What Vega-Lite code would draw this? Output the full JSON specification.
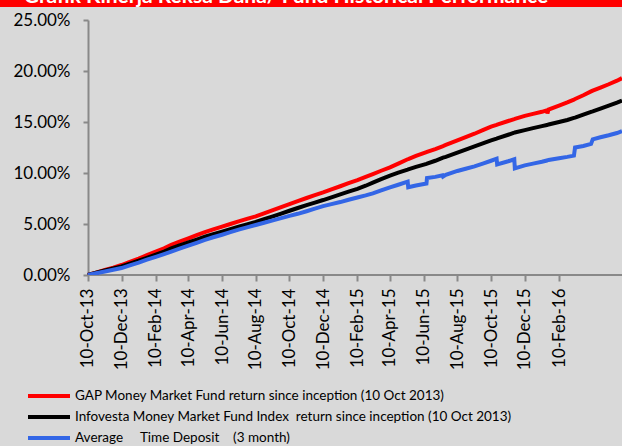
{
  "$schema": "https://vega.github.io/schema/vega-lite/v6.json",
  "padding": 0,
  "background": "#D9D9D9",
  "spacing": 4,
  "config": {"font": "Lato", "view": {"stroke": null}},
  "vconcat": [
    {
      "width": 622,
      "height": 7,
      "view": {"fill": "#FF0000", "stroke": null},
      "data": {"values": [{"t": "Grafik Kinerja Reksa Dana/ Fund Historical Performance"}]},
      "mark": {"type": "text", "clip": true, "color": "#FFFFFF", "font": "Lato", "fontWeight": "bold", "fontSize": 21, "baseline": "alphabetic", "dx": -25, "dy": -0.5},
      "encoding": {"text": {"field": "t"}}
    },
    {
      "width": 622,
      "height": 255,
      "layer": [
        {
          "data": {"values": [{}]},
          "mark": {"type": "rule", "color": "#898989", "strokeWidth": 2},
          "encoding": {
            "x": {"datum": {"year": 2013, "month": 10, "date": 10, "utc": true}, "type": "temporal"},
            "x2": {"datum": {"year": 2016, "month": 6, "date": 3, "utc": true}},
            "y": {"datum": 0, "type": "quantitative"}
          }
        },
        {
          "data": {"values": [
            {"d": "2013-10-10", "GAP": 0, "INF": 0, "TD": 0},
            {"d": "2013-10-25", "GAP": 0.0024, "INF": 0.0022, "TD": 0.0017},
            {"d": "2013-11-10", "GAP": 0.0050, "INF": 0.0045, "TD": 0.0035},
            {"d": "2013-11-25", "GAP": 0.0073, "INF": 0.0065, "TD": 0.0051},
            {"d": "2013-12-10", "GAP": 0.0098, "INF": 0.0085, "TD": 0.0068},
            {"d": "2013-12-25", "GAP": 0.0128, "INF": 0.0112, "TD": 0.0095},
            {"d": "2014-01-10", "GAP": 0.0160, "INF": 0.0140, "TD": 0.0122},
            {"d": "2014-01-25", "GAP": 0.0194, "INF": 0.0169, "TD": 0.0150},
            {"d": "2014-02-10", "GAP": 0.0230, "INF": 0.0200, "TD": 0.0178},
            {"d": "2014-02-25", "GAP": 0.0262, "INF": 0.0230, "TD": 0.0205},
            {"d": "2014-03-10", "GAP": 0.0295, "INF": 0.0260, "TD": 0.0230},
            {"d": "2014-03-25", "GAP": 0.0328, "INF": 0.0290, "TD": 0.0258},
            {"d": "2014-04-10", "GAP": 0.0360, "INF": 0.0320, "TD": 0.0288},
            {"d": "2014-04-25", "GAP": 0.0392, "INF": 0.0347, "TD": 0.0316},
            {"d": "2014-05-10", "GAP": 0.0420, "INF": 0.0375, "TD": 0.0345},
            {"d": "2014-05-25", "GAP": 0.0448, "INF": 0.0400, "TD": 0.0370},
            {"d": "2014-06-10", "GAP": 0.0475, "INF": 0.0425, "TD": 0.0395},
            {"d": "2014-06-25", "GAP": 0.0500, "INF": 0.0450, "TD": 0.0420},
            {"d": "2014-07-10", "GAP": 0.0525, "INF": 0.0475, "TD": 0.0445},
            {"d": "2014-07-25", "GAP": 0.0550, "INF": 0.0497, "TD": 0.0467},
            {"d": "2014-08-10", "GAP": 0.0575, "INF": 0.0520, "TD": 0.0490},
            {"d": "2014-08-25", "GAP": 0.0605, "INF": 0.0547, "TD": 0.0512},
            {"d": "2014-09-10", "GAP": 0.0635, "INF": 0.0575, "TD": 0.0535},
            {"d": "2014-09-25", "GAP": 0.0665, "INF": 0.0602, "TD": 0.0557},
            {"d": "2014-10-10", "GAP": 0.0695, "INF": 0.0630, "TD": 0.0580},
            {"d": "2014-10-25", "GAP": 0.0725, "INF": 0.0657, "TD": 0.0600},
            {"d": "2014-11-10", "GAP": 0.0755, "INF": 0.0685, "TD": 0.0625},
            {"d": "2014-11-25", "GAP": 0.0783, "INF": 0.0710, "TD": 0.0650},
            {"d": "2014-12-10", "GAP": 0.0810, "INF": 0.0735, "TD": 0.0675},
            {"d": "2014-12-25", "GAP": 0.0840, "INF": 0.0762, "TD": 0.0695},
            {"d": "2015-01-10", "GAP": 0.0870, "INF": 0.0790, "TD": 0.0715},
            {"d": "2015-01-25", "GAP": 0.0900, "INF": 0.0817, "TD": 0.0738},
            {"d": "2015-02-10", "GAP": 0.0930, "INF": 0.0845, "TD": 0.0760},
            {"d": "2015-02-25", "GAP": 0.0962, "INF": 0.0875, "TD": 0.0780},
            {"d": "2015-03-10", "GAP": 0.0990, "INF": 0.0905, "TD": 0.0800},
            {"d": "2015-03-25", "GAP": 0.1022, "INF": 0.0940, "TD": 0.0830},
            {"d": "2015-04-10", "GAP": 0.1055, "INF": 0.0975, "TD": 0.0860},
            {"d": "2015-04-25", "GAP": 0.1092, "INF": 0.1003, "TD": 0.0885},
            {"d": "2015-05-12", "GAP": 0.1135, "INF": 0.1033, "TD": 0.0915},
            {"d": "2015-05-13", "GAP": 0.1137, "INF": 0.1035, "TD": 0.0860},
            {"d": "2015-05-27", "GAP": 0.1168, "INF": 0.1060, "TD": 0.0878},
            {"d": "2015-06-15", "GAP": 0.1205, "INF": 0.1090, "TD": 0.0897},
            {"d": "2015-06-16", "GAP": 0.1207, "INF": 0.1092, "TD": 0.0950},
            {"d": "2015-07-01", "GAP": 0.1235, "INF": 0.1120, "TD": 0.0962},
            {"d": "2015-07-14", "GAP": 0.1262, "INF": 0.1148, "TD": 0.0978},
            {"d": "2015-07-15", "GAP": 0.1264, "INF": 0.1150, "TD": 0.0965},
            {"d": "2015-07-20", "GAP": 0.1275, "INF": 0.1158, "TD": 0.0982},
            {"d": "2015-08-10", "GAP": 0.1320, "INF": 0.1200, "TD": 0.1020},
            {"d": "2015-08-25", "GAP": 0.1352, "INF": 0.1230, "TD": 0.1042},
            {"d": "2015-09-10", "GAP": 0.1385, "INF": 0.1260, "TD": 0.1065},
            {"d": "2015-09-25", "GAP": 0.1420, "INF": 0.1290, "TD": 0.1092},
            {"d": "2015-10-10", "GAP": 0.1455, "INF": 0.1320, "TD": 0.1120},
            {"d": "2015-10-20", "GAP": 0.1472, "INF": 0.1338, "TD": 0.1140},
            {"d": "2015-10-21", "GAP": 0.1474, "INF": 0.1340, "TD": 0.1085},
            {"d": "2015-11-10", "GAP": 0.1510, "INF": 0.1375, "TD": 0.1115},
            {"d": "2015-11-21", "GAP": 0.1528, "INF": 0.1395, "TD": 0.1135},
            {"d": "2015-11-22", "GAP": 0.1530, "INF": 0.1397, "TD": 0.1046},
            {"d": "2015-12-10", "GAP": 0.1560, "INF": 0.1420, "TD": 0.1075},
            {"d": "2015-12-25", "GAP": 0.1580, "INF": 0.1440, "TD": 0.1092},
            {"d": "2016-01-10", "GAP": 0.1600, "INF": 0.1460, "TD": 0.1110},
            {"d": "2016-01-19", "GAP": 0.1615, "INF": 0.1470, "TD": 0.1122},
            {"d": "2016-01-20", "GAP": 0.1585, "INF": 0.1472, "TD": 0.1125},
            {"d": "2016-01-22", "GAP": 0.1622, "INF": 0.1475, "TD": 0.1128},
            {"d": "2016-02-10", "GAP": 0.1660, "INF": 0.1500, "TD": 0.1145},
            {"d": "2016-02-25", "GAP": 0.1692, "INF": 0.1520, "TD": 0.1158},
            {"d": "2016-03-08", "GAP": 0.1720, "INF": 0.1540, "TD": 0.1170},
            {"d": "2016-03-10", "GAP": 0.1725, "INF": 0.1543, "TD": 0.1250},
            {"d": "2016-03-25", "GAP": 0.1762, "INF": 0.1572, "TD": 0.1265},
            {"d": "2016-04-08", "GAP": 0.1800, "INF": 0.1600, "TD": 0.1285},
            {"d": "2016-04-11", "GAP": 0.1808, "INF": 0.1605, "TD": 0.1330},
            {"d": "2016-04-25", "GAP": 0.1838, "INF": 0.1632, "TD": 0.1350},
            {"d": "2016-05-10", "GAP": 0.1870, "INF": 0.1660, "TD": 0.1370},
            {"d": "2016-05-25", "GAP": 0.1905, "INF": 0.1690, "TD": 0.1392},
            {"d": "2016-06-03", "GAP": 0.1930, "INF": 0.1710, "TD": 0.1410}
          ]},
          "transform": [{"fold": ["GAP", "INF", "TD"], "as": ["series", "value"]}],
          "mark": {"type": "line", "strokeWidth": 4, "clip": true},
          "encoding": {
            "x": {
              "field": "d", "type": "temporal",
              "scale": {"type": "utc", "domain": [{"year": 2013, "month": 5, "date": 4, "utc": true}, {"year": 2016, "month": 6, "date": 3, "utc": true}]},
              "axis": {
                "values": [
                  {"year": 2013, "month": 10, "date": 10, "utc": true},
                  {"year": 2013, "month": 12, "date": 10, "utc": true},
                  {"year": 2014, "month": 2, "date": 10, "utc": true},
                  {"year": 2014, "month": 4, "date": 10, "utc": true},
                  {"year": 2014, "month": 6, "date": 10, "utc": true},
                  {"year": 2014, "month": 8, "date": 10, "utc": true},
                  {"year": 2014, "month": 10, "date": 10, "utc": true},
                  {"year": 2014, "month": 12, "date": 10, "utc": true},
                  {"year": 2015, "month": 2, "date": 10, "utc": true},
                  {"year": 2015, "month": 4, "date": 10, "utc": true},
                  {"year": 2015, "month": 6, "date": 10, "utc": true},
                  {"year": 2015, "month": 8, "date": 10, "utc": true},
                  {"year": 2015, "month": 10, "date": 10, "utc": true},
                  {"year": 2015, "month": 12, "date": 10, "utc": true},
                  {"year": 2016, "month": 2, "date": 10, "utc": true}
                ],
                "labelExpr": "utcFormat(datum.value, '%d-%b-%y')",
                "labelAngle": 270, "labelFontSize": 17, "labelColor": "#000000", "labelPadding": 7,
                "labelOverlap": false, "labelFlush": false,
                "tickSize": 6, "tickWidth": 2, "tickColor": "#898989",
                "domain": false,
                "grid": false, "title": null
              }
            },
            "y": {
              "field": "value", "type": "quantitative",
              "scale": {"domain": [0, 0.25], "nice": false},
              "axis": {
                "values": [0, 0.05, 0.1, 0.15, 0.2, 0.25],
                "format": ".2%", "labelFontSize": 17, "labelColor": "#000000", "labelPadding": 13,
                "tickSize": 5, "tickWidth": 2, "tickColor": "#898989",
                "domainColor": "#898989", "domainWidth": 2,
                "offset": -88, "grid": false, "title": null
              }
            },
            "color": {
              "field": "series", "type": "nominal",
              "scale": {"domain": ["GAP", "INF", "TD"], "range": ["#FF0000", "#000000", "#3366E6"]},
              "legend": {
                "orient": "none", "legendX": 42, "legendY": 389, "title": null,
                "symbolType": "M-4.2,0L4.2,0", "symbolSize": 100, "symbolStrokeWidth": 4,
                "labelFontSize": 13.5, "labelColor": "#000000", "labelOffset": 19, "labelLimit": 700,
                "rowPadding": 5, "padding": 0,
                "labelExpr": "datum.label == 'GAP' ? 'GAP Money Market Fund return since inception (10 Oct 2013)' : datum.label == 'INF' ? 'Infovesta Money Market Fund Index\u00a0 return since inception (10 Oct 2013)' : '\u00a0Average\u00a0\u00a0\u00a0\u00a0\u00a0Time Deposit\u00a0\u00a0\u00a0\u00a0(3 month)'"
              }
            }
          }
        }
      ]
    }
  ]
}
